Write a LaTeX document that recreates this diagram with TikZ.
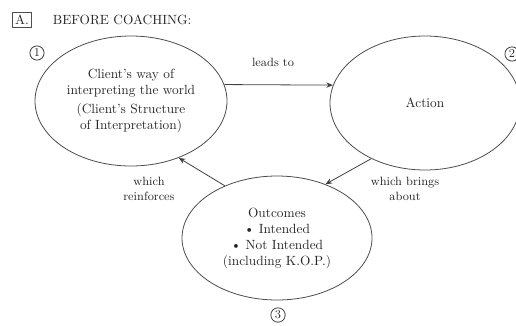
\documentclass[tikz,border=0pt]{standalone}
\usetikzlibrary{shapes.geometric,arrows.meta}
\begin{document}
\begin{tikzpicture}[x=0.75pt, y=-0.75pt, line width=0.6pt,
  every node/.style={text=black!85},
  bubble/.style={ellipse, draw=black!70, align=center, inner sep=0pt},
  num/.style={circle, draw=black!75, inner sep=1.1pt, font=\small},
  link/.style={draw=black!75, -{Stealth[length=5pt,width=4pt]}},
  note/.style={align=center, font=\small}]
\useasboundingbox (0,0) rectangle (516,325);
% heading
\node[draw=black!70, inner sep=2pt] (tag) at (22,20) {A.};
\node[anchor=west] (title) at (48,20) {BEFORE COACHING:};
% the three stages
\node[bubble, minimum width=144pt, minimum height=97.5pt] (client) at (131,101)
  {Client's way of\\ interpreting the world\\[2pt] (Client's Structure\\ of Interpretation)};
\node[bubble, minimum width=142.5pt, minimum height=100.5pt] (action) at (425,103) {Action};
\node[bubble, minimum width=142.5pt, minimum height=93pt] (outcomes) at (277,238)
  {Outcomes\\ \textbullet{} Intended\\ \textbullet{} Not Intended\\ (including K.O.P.)};
\node[num] (n1) at (37,53) {1};
\node[num] (n2) at (512,54) {2};
\node[num] (n3) at (278,315) {3};
% links
\draw[link] (client.10) -- (action.169);
\draw[link] (action.226) -- (outcomes.48);
\draw[link] (outcomes.135) -- (client.310);
\node[note] (lead) at (273,62) {leads to};
\node[note] (bring) at (405,189) {which brings\\ about};
\node[note] (reinf) at (149,189) {which\\ reinforces};
\end{tikzpicture}
\end{document}
